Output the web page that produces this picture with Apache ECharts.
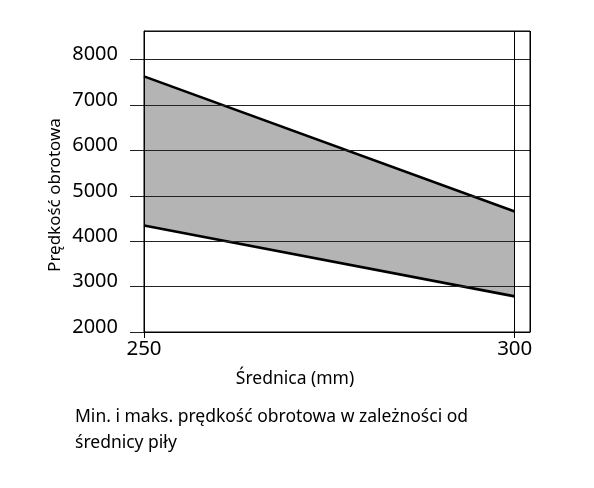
<!DOCTYPE html>
<html>
<head>
<meta charset="utf-8">
<script src="https://cdn.jsdelivr.net/npm/echarts@6/dist/echarts.min.js"></script>
<style>
  html, body { margin: 0; padding: 0; background: #fff; }
  #chart { width: 594px; height: 488px; }
</style>
</head>
<body>
<div id="chart"></div>
<script>
// diameter (mm) and min / max rotational speed
var diameters = [250, 300]
var maxSpeed = [7630, 4655]
var minSpeed = [4345, 2785]
var yTicks = [2000, 3000, 4000, 5000, 6000, 7000, 8000]

var FONT = 'Noto Sans'

var myChart = echarts.init(document.getElementById('chart'))
var option = {
  animation: false,
  backgroundColor: '#fff',
  textStyle: { fontFamily: FONT, color: '#000' },
  grid: {
    left: 144, right: 64, top: 31, bottom: 156,
    show: true, borderColor: '#000', borderWidth: 1, z: 6
  },
  title: [
    {
      text: 'Średnica (mm)',
      left: 290, top: 365, textAlign: 'center',
      textStyle: { fontFamily: FONT, fontSize: 17.5, fontWeight: 'normal', color: '#000' }
    },
    {
      text: 'Min. i maks. prędkość obrotowa w zależności od\nśrednicy piły',
      left: 70, top: 399,
      textStyle: { fontFamily: FONT, fontSize: 17.5, fontWeight: 'normal', color: '#000', lineHeight: 26 }
    }
  ],
  graphic: [{
    type: 'text',
    x: 55, y: 195,
    rotation: Math.PI / 2,
    style: {
      text: 'Prędkość obrotowa',
      fontFamily: FONT, fontSize: 17, fill: '#000',
      align: 'center', verticalAlign: 'middle'
    }
  }],
  xAxis: {
    type: 'value',
    min: 250, max: 302.06, interval: 50,
    z: 5,
    axisLine: { show: true, lineStyle: { color: '#000', width: 1 } },
    axisTick: { show: true, length: 6, lineStyle: { color: '#000' } },
    axisLabel: { showMaxLabel: false, fontSize: 20.5, color: '#000', margin: 7, fontFamily: FONT },
    splitLine: { show: true, lineStyle: { color: '#000', width: 1 } }
  },
  yAxis: {
    type: 'value',
    min: yTicks[0], max: 8630, interval: 1000,
    z: 5,
    axisLine: { show: true, lineStyle: { color: '#000', width: 1 } },
    axisTick: { show: true, length: 14, lineStyle: { color: '#222' } },
    axisLabel: {
      showMaxLabel: false, fontSize: 20, color: '#000', margin: 26, fontFamily: FONT,
      formatter: function (v) { return String(v) },
      verticalAlign: 'bottom', lineHeight: 10
    },
    splitLine: { show: true, lineStyle: { color: '#222', width: 1 } }
  },
  series: [
    {
      // max line, filled grey down to the bottom
      type: 'line',
      z: 1,
      symbol: 'none',
      data: diameters.map(function (d, i) { return [d, maxSpeed[i]] }),
      lineStyle: { color: '#000', width: 2.6 },
      areaStyle: { color: '#b4b4b4', opacity: 1, origin: 'start' }
    },
    {
      // min line, white below it so only the band stays grey
      type: 'line',
      z: 1,
      symbol: 'none',
      data: diameters.map(function (d, i) { return [d, minSpeed[i]] }),
      lineStyle: { color: '#000', width: 2.6 },
      areaStyle: { color: '#fff', opacity: 1, origin: 'start' }
    }
  ]
}
myChart.setOption(option)
</script>
</body>
</html>
